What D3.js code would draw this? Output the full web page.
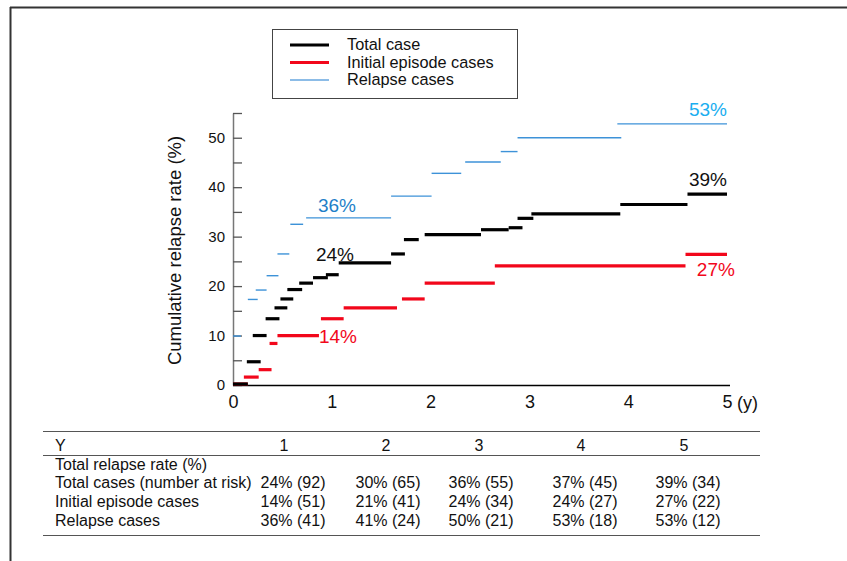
<!DOCTYPE html>
<html>
<head>
  <meta charset="UTF-8" />
  <script src="https://d3js.org/d3.v7.min.js"></script>
  <style>
    body { margin: 0; padding: 0; background: #fff; }
    svg { font-family: "Liberation Sans", Arial, sans-serif; }
  </style>
</head>
<body>
  <svg id="chart" width="847" height="561"></svg>
  <script>
    // step segments: start year, end year, cumulative rate (%)
    const totalStart = [0, 0.14, 0.20, 0.33, 0.42, 0.48, 0.55, 0.67, 0.81, 0.94, 1.07, 1.60, 1.73, 1.94, 2.51, 2.79, 2.88, 3.02, 3.92, 4.60];
    const totalEnd   = [0.15, 0.28, 0.34, 0.47, 0.55, 0.61, 0.70, 0.81, 0.96, 1.07, 1.60, 1.74, 1.88, 2.51, 2.79, 2.93, 3.04, 3.92, 4.60, 5.0];
    const totalRate  = [0.2, 4.7, 10.0, 13.4, 15.6, 17.4, 19.3, 20.6, 21.7, 22.3, 24.7, 26.5, 29.4, 30.4, 31.4, 31.8, 33.7, 34.6, 36.5, 38.6];

    const initialStart = [0, 0.11, 0.26, 0.37, 0.45, 0.89, 1.12, 1.71, 1.94, 2.65, 4.58];
    const initialEnd   = [0.15, 0.26, 0.39, 0.45, 0.87, 1.12, 1.66, 1.94, 2.65, 4.58, 5.0];
    const initialRate  = [0.2, 1.6, 3.1, 8.4, 10.0, 13.4, 15.6, 17.4, 20.6, 24.1, 26.4];

    const relapseStart = [0, 0.15, 0.23, 0.34, 0.45, 0.58, 0.74, 1.60, 2.01, 2.35, 2.71, 2.88, 3.89];
    const relapseEnd   = [0.08, 0.25, 0.34, 0.46, 0.57, 0.71, 1.60, 2.01, 2.31, 2.71, 2.88, 3.93, 5.0];
    const relapseRate  = [9.9, 17.3, 19.2, 22.1, 26.5, 32.5, 33.8, 38.2, 42.8, 45.1, 47.2, 50.0, 52.8];

    const legendNames = ["Total case", "Initial episode cases", "Relapse cases"];

    // table below the plot
    const years = [1, 2, 3, 4, 5];
    const totalPct = [24, 30, 36, 37, 39];
    const totalRisk = [92, 65, 55, 45, 34];
    const initialPct = [14, 21, 24, 24, 27];
    const initialRisk = [51, 41, 34, 27, 22];
    const relapsePct = [36, 41, 50, 53, 53];
    const relapseRisk = [41, 24, 21, 18, 12];

    const svg = d3.select("#chart");

    // outer frame (top and left edges)
    svg.append("line").attr("x1", 10).attr("x2", 847).attr("y1", 7.5).attr("y2", 7.5)
      .attr("stroke", "#333").attr("stroke-width", 2);
    svg.append("line").attr("x1", 10.5).attr("x2", 10.5).attr("y1", 7).attr("y2", 561)
      .attr("stroke", "#333").attr("stroke-width", 2);

    const x = d3.scaleLinear().domain([0, 5]).range([233, 727]);
    const y = d3.scaleLinear().domain([0, 55]).range([385, 113]);

    // y axis: ticks every 5 pointing inward, labels every 10
    const yAxis = svg.append("g")
      .attr("transform", `translate(${x(0)},0)`)
      .call(d3.axisRight(y).tickValues(d3.range(0, 56, 5)).tickSize(9).tickSizeOuter(0)
        .tickFormat((d) => (d % 10 === 0 && d <= 50 ? d : "")));
    yAxis.select(".domain").attr("stroke", "#777").attr("stroke-width", 1.5);
    yAxis.selectAll(".tick line").attr("stroke", "#555").attr("stroke-width", 1.3);
    yAxis.selectAll(".tick text")
      .attr("x", -8).attr("text-anchor", "end")
      .style("font-size", "15px").attr("fill", "#111");

    // x axis: plain line with labels
    const xAxis = svg.append("g")
      .attr("transform", `translate(0,${y(0)})`)
      .call(d3.axisBottom(x).ticks(5).tickSize(0).tickSizeOuter(0).tickFormat(d3.format("d")));
    xAxis.select(".domain").attr("d", `M${x(0)},0.5H${x(5) + 3}`).attr("stroke", "#000").attr("stroke-width", 1.3);
    xAxis.selectAll(".tick text").attr("dy", "0.71em").attr("y", 10)
      .style("font-size", "18px").attr("fill", "#111");
    svg.append("text").attr("x", x(5) + 10).attr("y", y(0) + 23.5)
      .style("font-size", "18px").attr("fill", "#111").text("(y)");

    svg.append("text")
      .attr("transform", `translate(181,${y(27.2)}) rotate(-90)`)
      .attr("text-anchor", "middle")
      .style("font-size", "18.5px").attr("fill", "#111")
      .text("Cumulative relapse rate (%)");

    function drawSteps(starts, ends, rates, color, width) {
      svg.append("g").selectAll("line")
        .data(rates)
        .join("line")
        .attr("x1", (d, i) => x(starts[i]))
        .attr("x2", (d, i) => x(ends[i]))
        .attr("y1", (d) => y(d))
        .attr("y2", (d) => y(d))
        .attr("stroke", color)
        .attr("stroke-width", width);
    }

    drawSteps(relapseStart, relapseEnd, relapseRate, "#3d92d8", 1.4);
    drawSteps(initialStart, initialEnd, initialRate, "#f2071b", 3.2);
    drawSteps(totalStart, totalEnd, totalRate, "#000", 3.2);

    // value labels at 1 and 5 years
    const labels = [
      { t: "36%", xv: 0.86, yv: 35.0, c: "#1f7fc8", a: "start" },
      { t: "24%", xv: 0.84, yv: 25.0, c: "#111", a: "start" },
      { t: "14%", xv: 0.87, yv: 8.5, c: "#f2071b", a: "start" },
      { t: "53%", xv: 5.0, yv: 54.3, c: "#1aaef0", a: "end" },
      { t: "39%", xv: 5.0, yv: 40.2, c: "#111", a: "end" },
      { t: "27%", xv: 5.08, yv: 22.0, c: "#f2071b", a: "end" }
    ];
    svg.append("g").selectAll("text")
      .data(labels)
      .join("text")
      .attr("x", (d) => x(d.xv))
      .attr("y", (d) => y(d.yv))
      .attr("text-anchor", (d) => d.a)
      .attr("fill", (d) => d.c)
      .style("font-size", "19px")
      .text((d) => d.t);

    // legend
    const legend = svg.append("g");
    legend.append("rect").attr("x", 272.5).attr("y", 29.5).attr("width", 245).attr("height", 69)
      .attr("fill", "#fff").attr("stroke", "#444").attr("stroke-width", 1);
    const legendColors = ["#000", "#f2071b", "#1a7ad0"];
    const legendWidths = [3.2, 3.2, 1.2];
    legendNames.forEach((name, i) => {
      const ly = 45 + i * 17.5;
      legend.append("line").attr("x1", 290).attr("x2", 329).attr("y1", ly).attr("y2", ly)
        .attr("stroke", legendColors[i]).attr("stroke-width", legendWidths[i]);
      legend.append("text").attr("x", 347).attr("y", ly + 5)
        .style("font-size", "16.3px").attr("fill", "#111").text(name);
    });

    // table
    const table = svg.append("g").style("font-size", "16px").attr("fill", "#111");
    [431, 455, 535].forEach((ty) => {
      table.append("line").attr("x1", 43).attr("x2", 760).attr("y1", ty + 0.5).attr("y2", ty + 0.5)
        .attr("stroke", "#555").attr("stroke-width", 1);
    });
    const headX = [284, 386, 479, 581, 684];
    const cellX = [293, 388, 481, 585, 688];
    table.append("text").attr("x", 55).attr("y", 451).text("Y");
    table.selectAll(".head").data(years).join("text")
      .attr("x", (d, i) => headX[i]).attr("y", 451).attr("text-anchor", "middle").text((d) => d);

    const rows = [
      { label: "Total relapse rate (%)", pct: null, risk: null },
      { label: "Total cases (number at risk)", pct: totalPct, risk: totalRisk },
      { label: "Initial episode cases", pct: initialPct, risk: initialRisk },
      { label: "Relapse cases", pct: relapsePct, risk: relapseRisk }
    ];
    rows.forEach((row, r) => {
      const ry = 469.5 + r * 18.7;
      table.append("text").attr("x", 55).attr("y", ry).text(row.label);
      if (!row.pct) return;
      table.append("g").selectAll("text").data(row.pct).join("text")
        .attr("x", (d, i) => cellX[i]).attr("y", ry).attr("text-anchor", "middle")
        .text((d, i) => `${d}% (${row.risk[i]})`);
    });
  </script>
</body>
</html>
